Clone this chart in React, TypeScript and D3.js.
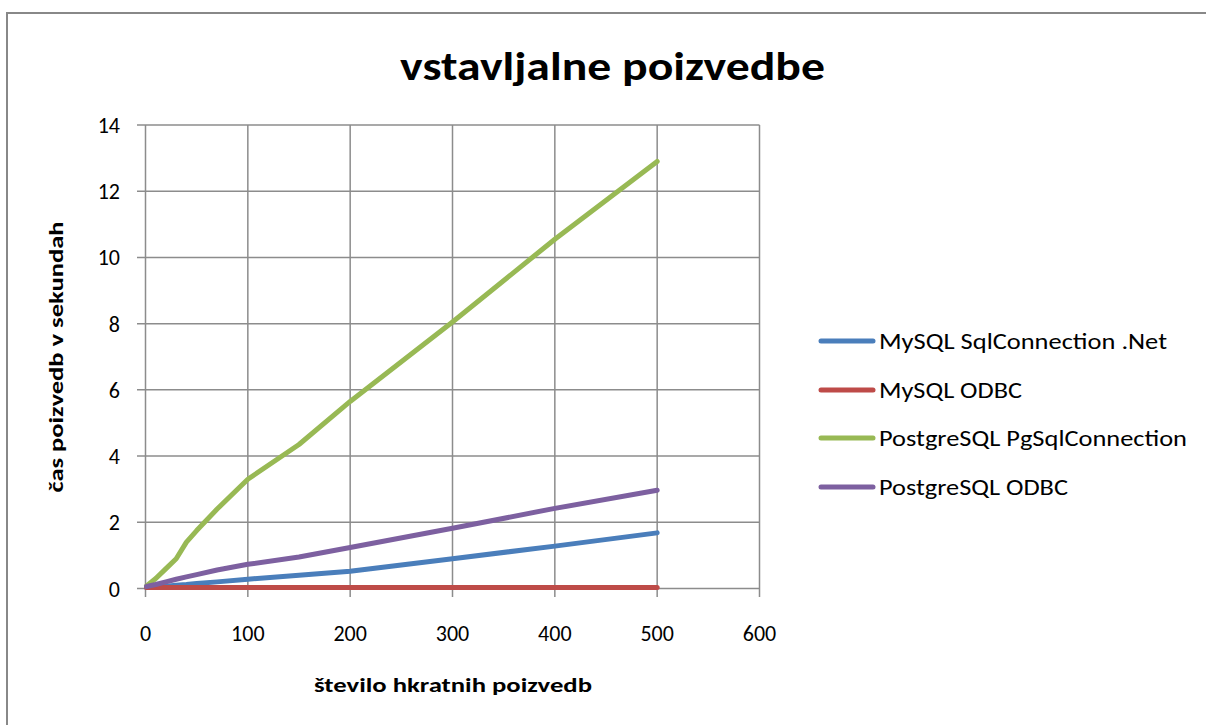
import React from "react";
import * as d3 from "d3";

const xValues = [1, 10, 20, 30, 40, 50, 70, 100, 150, 200, 300, 400, 500];
const mysqlNet = [0.03, 0.05, 0.07, 0.1, 0.12, 0.15, 0.2, 0.28, 0.4, 0.52, 0.9, 1.28, 1.68];
const mysqlOdbc = [0.03, 0.03, 0.03, 0.03, 0.03, 0.03, 0.03, 0.03, 0.03, 0.03, 0.03, 0.03, 0.03];
const pgConn = [0.08, 0.3, 0.6, 0.9, 1.4, 1.75, 2.4, 3.3, 4.35, 5.65, 8.05, 10.55, 12.9];
const pgOdbc = [0.06, 0.12, 0.2, 0.28, 0.35, 0.42, 0.56, 0.73, 0.95, 1.24, 1.82, 2.42, 2.97];

const seriesNames = [
  "MySQL SqlConnection .Net",
  "MySQL ODBC",
  "PostgreSQL PgSqlConnection",
  "PostgreSQL ODBC",
];
const seriesColors = ["#4A7EBB", "#BE4B48", "#98B954", "#7D60A0"];
const legendWidths = [288, 143, 308, 189];
const xTicks = [0, 100, 200, 300, 400, 500, 600];
const yTicks = [0, 2, 4, 6, 8, 10, 12, 14];

const FONT = "Carlito, Lato, 'Open Sans', sans-serif";

export default function App() {
  const W = 1206;
  const H = 725;
  const x = d3.scaleLinear().domain([0, 600]).range([145.5, 759.5]);
  const y = d3.scaleLinear().domain([0, 14]).range([588.5, 125]);
  const allSeries = [mysqlNet, mysqlOdbc, pgConn, pgOdbc];
  const line = d3
    .line<number>()
    .x((_, i) => x(xValues[i]))
    .y((d) => y(d));
  const gridColor = "#8C8C8C";
  const legendY = [341, 390, 438, 487];

  return (
    <svg
      width={W}
      height={H}
      style={{ position: "absolute", left: 0, top: 0, display: "block" }}
      fontFamily={FONT}
    >
      <rect x={0} y={0} width={W} height={H} fill="#fff" />
      <rect x={7} y={13} width={W} height={H} fill="none" stroke="#888" strokeWidth={2} />

      {/* horizontal grid */}
      {yTicks.map((t) => (
        <line key={"hy" + t} x1={137} x2={x(600)} y1={y(t)} y2={y(t)} stroke={gridColor} strokeWidth={1.5} />
      ))}
      {/* vertical grid */}
      {xTicks.map((t) => (
        <line key={"vx" + t} x1={x(t)} x2={x(t)} y1={y(14)} y2={597} stroke={gridColor} strokeWidth={1.5} />
      ))}

      {/* y tick labels */}
      {yTicks.map((t) => (
        <text key={"yl" + t} x={120} y={y(t) + 8} textAnchor="end" fontSize={22} fill="#000">
          {t}
        </text>
      ))}
      {/* x tick labels */}
      {xTicks.map((t) => (
        <text key={"xl" + t} x={x(t)} y={641} textAnchor="middle" fontSize={22} fill="#000">
          {t}
        </text>
      ))}

      {/* lines */}
      {allSeries.map((s, i) => (
        <path
          key={"s" + i}
          d={line(s) || ""}
          fill="none"
          stroke={seriesColors[i]}
          strokeWidth={5}
          strokeLinejoin="round"
          strokeLinecap="round"
        />
      ))}

      {/* title */}
      <text
        x={612.5}
        y={80}
        textAnchor="middle"
        fontSize={40}
        fontWeight="bold"
        textLength={425}
        lengthAdjust="spacingAndGlyphs"
      >
        vstavljalne poizvedbe
      </text>

      {/* x axis title */}
      <text
        x={453}
        y={692}
        textAnchor="middle"
        fontSize={21}
        fontWeight="bold"
        textLength={278}
        lengthAdjust="spacingAndGlyphs"
      >
        število hkratnih poizvedb
      </text>

      {/* y axis title */}
      <text
        transform={`translate(63, ${357}) rotate(-90)`}
        textAnchor="middle"
        fontSize={21}
        fontWeight="bold"
        textLength={271}
        lengthAdjust="spacingAndGlyphs"
      >
        čas poizvedb v sekundah
      </text>

      {/* legend */}
      {seriesNames.map((n, i) => (
        <g key={"lg" + i}>
          <line
            x1={821}
            x2={873}
            y1={legendY[i]}
            y2={legendY[i]}
            stroke={seriesColors[i]}
            strokeWidth={5}
            strokeLinecap="round"
          />
          <text
            x={879}
            y={legendY[i] + 8}
            fontSize={22}
            textLength={legendWidths[i]}
            lengthAdjust="spacingAndGlyphs"
          >
            {n}
          </text>
        </g>
      ))}
    </svg>
  );
}
